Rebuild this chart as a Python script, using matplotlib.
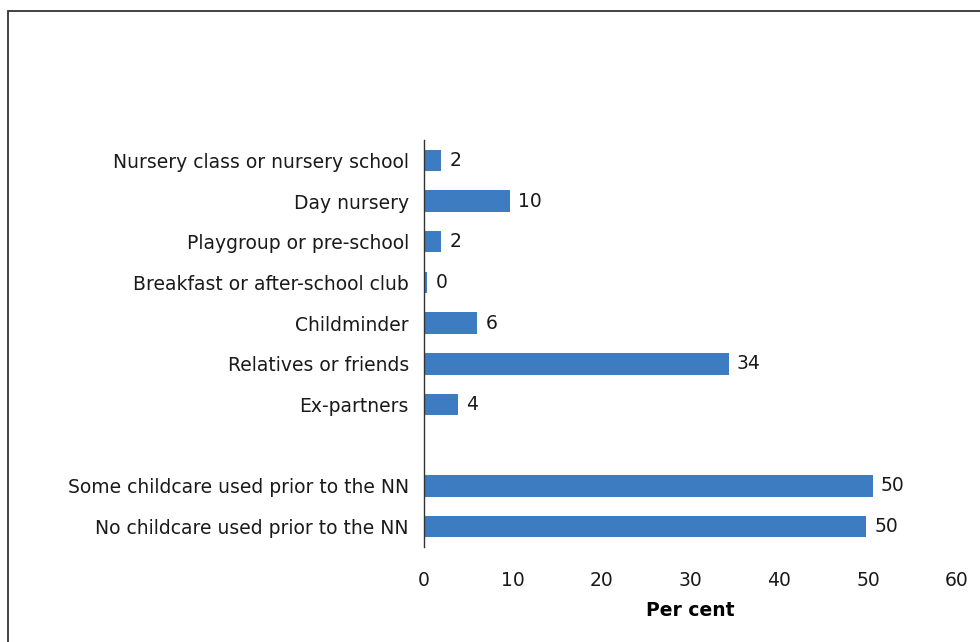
import matplotlib.pyplot as plt
from matplotlib.patches import Rectangle
import numpy as np

# data (top to bottom, "" = blank gap row)
categories = [
    "Nursery class or nursery school",
    "Day nursery",
    "Playgroup or pre-school",
    "Breakfast or after-school club",
    "Childminder",
    "Relatives or friends",
    "Ex-partners",
    "",
    "Some childcare used prior to the NN",
    "No childcare used prior to the NN",
]
values = [1.96, 9.7, 1.96, 0.38, 6.0, 34.3, 3.8, np.nan, 50.5, 49.8]
value_labels = ["2", "10", "2", "0", "6", "34", "4", "", "50", "50"]
xticks = [0, 10, 20, 30, 40, 50, 60]

bar_color = "#3E7CC1"
fs = 13.5

plt.rcParams["font.family"] = "DejaVu Sans"
fig = plt.figure(figsize=(9.8, 6.42), dpi=100)
ax = fig.add_axes([0.4327, 0.148, 0.5439, 0.634])

y = np.arange(len(categories))
ax.barh(y, values, height=0.53, color=bar_color)

for yi, v, lab in zip(y, values, value_labels):
    if lab:
        ax.text(v + 0.9, yi, lab, va="center", ha="left", fontsize=fs, color="#1a1a1a")

ax.set_yticks(y)
ax.set_yticklabels(categories, fontsize=fs, color="#1a1a1a")
ax.set_ylim(len(categories) - 0.5, -0.5)
ax.set_xlim(0, 60)
ax.set_xticks(xticks)
ax.set_xticklabels([str(t) for t in xticks], fontsize=fs, color="#1a1a1a")
ax.tick_params(axis="y", length=0, pad=11)
ax.tick_params(axis="x", length=0, pad=17)
ax.set_xlabel("Per cent", fontsize=fs, fontweight="bold", labelpad=8)

for s in ["top", "right", "bottom"]:
    ax.spines[s].set_visible(False)
ax.spines["left"].set_color("#333333")
ax.spines["left"].set_linewidth(1.0)

# outer frame (only top and left edges fall inside the image)
fig.patches.append(Rectangle((8 / 980, -0.05), 1.1, 1 - 11 / 642 + 0.05,
                             transform=fig.transFigure, fill=False,
                             edgecolor="#333333", linewidth=1.3))

fig.savefig("out.png", dpi=100)
